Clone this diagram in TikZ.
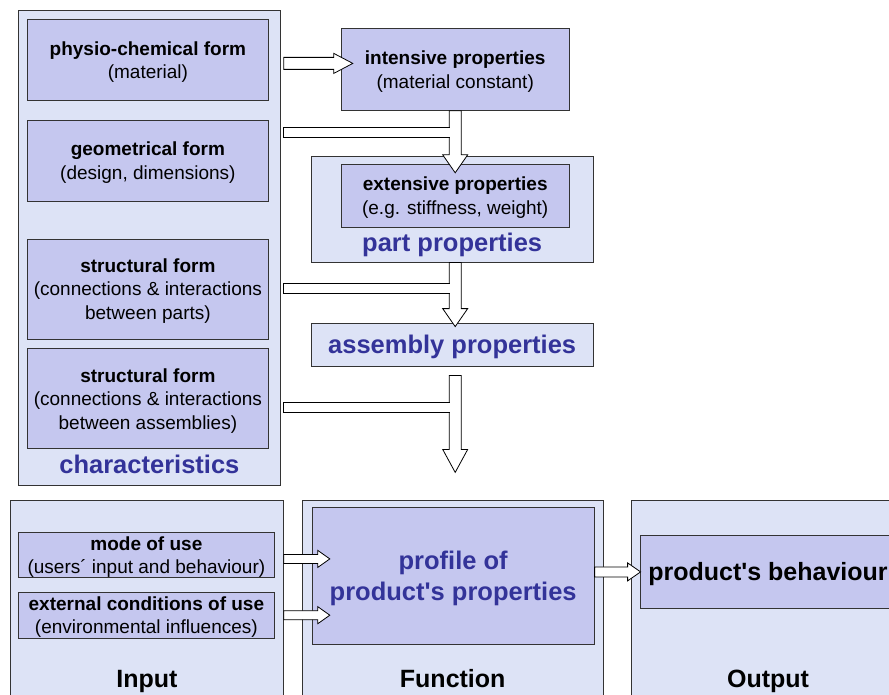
\documentclass[tikz,border=0pt]{standalone}
\usepackage{fontspec}
\setmainfont{Liberation Sans}[Ligatures=TeXOff]
\usepackage{xcolor}
\usetikzlibrary{positioning,calc}

\definecolor{outerfill}{RGB}{221,227,246}
\definecolor{innerfill}{RGB}{197,199,239}
\definecolor{titleblue}{RGB}{51,51,153}

\begin{document}
\begin{tikzpicture}[line join=miter,
  outer/.style = {draw=black!80, fill=outerfill, line width=0.8pt, inner sep=0pt},
  inner/.style = {draw=black!80, fill=innerfill, line width=0.8pt, inner sep=0pt, align=center, font=\fontsize{19}{23.5}\selectfont, text depth=-2pt},
  title/.style = {font=\fontsize{25.5}{31}\selectfont\bfseries, text=titleblue, inner sep=0pt, align=center},
  head/.style = {font=\fontsize{25}{30}\selectfont\bfseries, text=black, inner sep=0pt},
  hfat/.style n args={3}{draw=black, fill=white, line width=0.8pt, to path={let \p1=(\tikztostart), \p2=(\tikztotarget) in
      (\x1,\y1+#1) -- (\x2-#3,\y1+#1) -- (\x2-#3,\y1+#2) -- (\x2,\y1) -- (\x2-#3,\y1-#2) -- (\x2-#3,\y1-#1) -- (\x1,\y1-#1) -- cycle}},
  vfat/.style n args={3}{draw=black, fill=white, line width=0.8pt, to path={let \p1=(\tikztostart), \p2=(\tikztotarget) in
      (\x1-#1,\y1) -- (\x1-#1,\y2+#3) -- (\x1-#2,\y2+#3) -- (\x1,\y2) -- (\x1+#2,\y2+#3) -- (\x1+#1,\y2+#3) -- (\x1+#1,\y1) -- cycle}},
  stub/.style = {draw=black, fill=white, line width=0.8pt, to path={let \p1=(\tikztostart), \p2=(\tikztotarget) in
      (\x2,\y1+#1) -- (\x1,\y1+#1) -- (\x1,\y1-#1) -- (\x2,\y1-#1)}}]

\useasboundingbox (0pt,0pt) rectangle (889pt,-695pt);

% characteristics
\node[outer, minimum width=262pt, minimum height=475pt, anchor=north west] (chars) at (18pt,-10pt) {};
\node[inner, minimum width=241pt, minimum height=81pt] (physio) [below right=9pt and 9pt of chars.north west] {\textbf{physio-chemical form}\\(material)};
\node[inner, minimum width=241pt, minimum height=81pt] (geom) [below=19pt of physio] {\textbf{geometrical form}\\(design, dimensions)};
\node[inner, minimum width=241pt, minimum height=100pt, text depth=0pt] (structp) [below=37pt of geom] {\textbf{structural form}\\(connections \& interactions\\between parts)};
\node[inner, minimum width=241pt, minimum height=100pt, text depth=0pt] (structa) [below=9pt of structp] {\textbf{structural form}\\(connections \& interactions\\between assemblies)};
\node[title, anchor=base] (charlabel) at ($(chars.south)+(0,12pt)$) {characteristics};

% properties
\node[inner, minimum width=228pt, minimum height=82pt, text depth=-4pt] (intensive) [below right=9pt and 72pt of physio.north east] {\textbf{intensive properties}\\(material constant)};
\node[outer, minimum width=282pt, minimum height=106pt, xshift=-3pt] (part) [below=45pt of intensive] {};
\node[inner, minimum width=228pt, minimum height=63pt] (extensive) [below=53pt of intensive] {\textbf{extensive properties}\\(e.g. stiffness, weight)};
\node[title, anchor=base] (partlabel) at ($(part.south)+(0,11pt)$) {part properties};
\node[outer, title, minimum width=282pt, minimum height=43pt, text depth=0pt] (assembly) [below=60pt of part] {assembly properties};

% input, function, output
\node[outer, minimum width=273pt, minimum height=215pt, anchor=north west] (input) at (10pt,-500pt) {};
\node[outer, minimum width=301pt, minimum height=215pt] (function) [below right=0pt and 18pt of input.north east] {};
\node[outer, minimum width=274pt, minimum height=215pt] (output) [below right=0pt and 27pt of function.north east] {};
\node[inner, minimum width=256pt, minimum height=45pt] (mode) [below right=32pt and 8pt of input.north west] {\textbf{mode of use}\\(users´ input and behaviour)};
\node[inner, minimum width=256pt, minimum height=46pt] (extcond) [below=14pt of mode] {\textbf{external conditions of use}\\(environmental influences)};
\node[inner, title, text depth=-4.5pt, minimum width=282pt, minimum height=137pt] (profile) [below right=7pt and 10pt of function.north west] {profile of\\product's properties};
\node[inner, head, text depth=0pt, minimum width=256pt, minimum height=73pt] (behaviour) [below right=35pt and 9pt of output.north west] {product's behaviour};
\node[head, anchor=base] (inlabel) at ($(input.north)+(0,-187pt)$) {Input};
\node[head, anchor=base] (funlabel) at ($(function.north)+(0,-187pt)$) {Function};
\node[head, anchor=base] (outlabel) at ($(output.north)+(0,-187pt)$) {Output};

% block arrows
\draw[hfat={6pt}{10pt}{19pt}] ($(chars.east |- intensive)+(3pt,6pt)$) to ($(intensive.west)+(12pt,6pt)$);
\draw[vfat={6pt}{12.5pt}{18pt}] (intensive.south) to ($(extensive.north)+(0,-9pt)$);
\draw[stub=5pt] ($(chars.east |- intensive.south)+(3pt,-22pt)$) to ($(intensive.south)+(-5.4pt,-22pt)$);
\draw[vfat={6pt}{12.5pt}{18pt}] (part.south -| intensive.south) to ($(assembly.north -| intensive.south)+(0,-4pt)$);
\draw[stub=5pt] ($(chars.east |- part.south)+(3pt,-26pt)$) to ($(part.south -| intensive.south)+(-5.4pt,-26pt)$);
\coordinate (down) at ($(assembly.south -| intensive.south)+(0,-106pt)$);
\draw[vfat={6pt}{12.5pt}{23pt}] ($(assembly.south -| intensive.south)+(0,-9pt)$) to (down);
\draw[stub=5pt] ($(chars.east |- assembly.south)+(3pt,-41pt)$) to ($(assembly.south -| intensive.south)+(-5.4pt,-41pt)$);
\draw[hfat={4.5pt}{8.5pt}{12pt}] ($(input.east |- mode)+(0,-4pt)$) to ($(profile.west |- mode)+(18pt,-4pt)$);
\draw[hfat={4.5pt}{8.5pt}{12pt}] (input.east |- extcond) to ($(profile.west |- extcond)+(18pt,0)$);
\draw[hfat={5pt}{9pt}{13pt}] (profile.east |- behaviour) to ($(behaviour.west)+(1pt,0)$);
\end{tikzpicture}
\end{document}
